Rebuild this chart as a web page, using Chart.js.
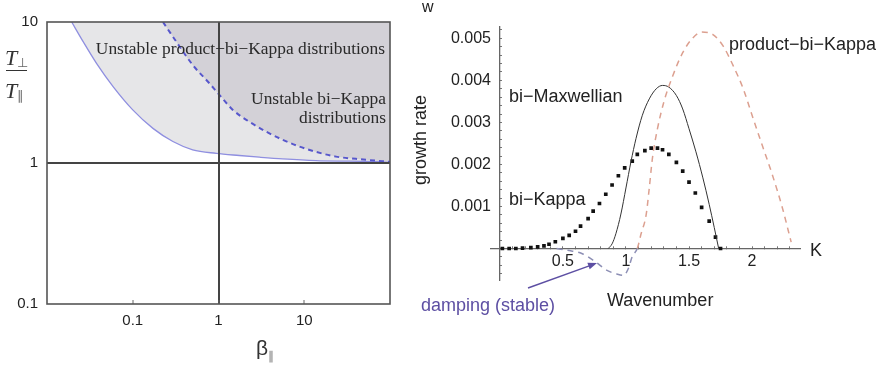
<!DOCTYPE html>
<html>
<head>
<meta charset="utf-8">
<script src="https://cdn.jsdelivr.net/npm/chart.js@4.4.1/dist/chart.umd.min.js"></script>
<style>
  body { margin: 0; background: #fff; }
  #page { position: relative; width: 890px; height: 366px; overflow: hidden; color: #222;
          font-family: 'Liberation Sans', Arial, sans-serif; }
  canvas { position: absolute; top: 0; }
  #left { left: 0; }
  #right { left: 400px; }
  .lbl { position: absolute; white-space: nowrap; line-height: 1; }
  .serif { font-family: 'Liberation Serif', 'Times New Roman', serif; font-size: 17.4px; color: #2a2a2a; }
  .sans { font-size: 18px; }
  .tee { font-family: 'Liberation Serif', serif; font-style: italic; font-size: 22px; color: #333; }
  .tee sub { font-style: normal; font-size: 13px; vertical-align: -2px; color: #666; }
</style>
</head>
<body>
<div id="page">
  <canvas id="left" width="400" height="366"></canvas>
  <canvas id="right" width="490" height="366"></canvas>

  <div class="lbl tee" style="left:5px; top:47px;">T<sub>⊥</sub></div>
  <div style="position:absolute; left:6px; top:70px; width:21px; height:1px; background:#333;"></div>
  <div class="lbl tee" style="left:5px; top:80px;">T<sub>∥</sub></div>
  <div class="lbl" style="left:256px; top:337px; font-size:21px; color:#333;">β<sub style="font-size:12px; color:#777;">∥</sub></div>

  <div class="lbl serif" style="right:505px; top:40px;">Unstable product−bi−Kappa distributions</div>
  <div class="lbl serif" style="right:504px; top:90px;">Unstable bi−Kappa</div>
  <div class="lbl serif" style="right:504px; top:109px;">distributions</div>

  <div class="lbl" style="left:422px; top:-1px; font-size:16px;">w</div>
  <div class="lbl sans" style="left:370px; top:131px; width:100px; text-align:center; transform:rotate(-90deg);">growth rate</div>
  <div class="lbl sans" style="left:810px; top:241px;">K</div>
  <div class="lbl sans" style="left:607px; top:291px;">Wavenumber</div>
  <div class="lbl sans" style="left:509px; top:87px;">bi−Maxwellian</div>
  <div class="lbl sans" style="left:509px; top:190px;">bi−Kappa</div>
  <div class="lbl sans" style="left:729px; top:35px;">product−bi−Kappa</div>
  <div class="lbl sans" style="left:421px; top:296px; color:#5d4fa3;">damping (stable)</div>
</div>

<script>
'use strict';

// left panel: threshold T_perp / T_par against beta_par (log-log)
let betaProduct = [0.0194, 0.0264, 0.0378, 0.059, 0.1, 0.172, 0.294, 0.5, 0.94, 1.75, 3.0, 5.6, 13.7, 33, 100];
let ratioProduct = [10, 7.25, 5.09, 3.48, 2.38, 1.76, 1.42, 1.24, 1.17, 1.13, 1.10, 1.07, 1.04, 1.03, 1.02];
let betaBiKappa = [0.225, 0.322, 0.5, 0.785, 1.03, 1.47, 2.29, 3.59, 5.6, 8.75, 13.7, 23.4, 40, 81, 100];
let ratioBiKappa = [10, 7.25, 4.96, 3.67, 3.03, 2.38, 1.96, 1.67, 1.46, 1.31, 1.20, 1.11, 1.07, 1.03, 1.02];
let betaTicks = [0.1, 1, 10];
let ratioTicks = [0.1, 1, 10];

// right panel: growth rate against wavenumber K
let kProduct = [0.45, 0.55, 0.65, 0.75, 0.85, 0.93, 0.98, 1.02, 1.05, 1.09, 1.12, 1.16, 1.185, 1.21, 1.25,
  1.30, 1.37, 1.45, 1.53, 1.60, 1.69, 1.77, 1.85, 1.93, 2.00, 2.08, 2.16, 2.24, 2.31];
let rateProduct = [0, -0.00005, -0.00012, -0.0003, -0.00052, -0.00061, -0.00064, -0.00047, -0.00019, 0,
  0.00035, 0.0008, 0.00144, 0.00215, 0.00285, 0.00348, 0.0041, 0.00466, 0.00501, 0.00515, 0.00509,
  0.00482, 0.00435, 0.0038, 0.00317, 0.00246, 0.00176, 0.00097, 0.00015];
let kMaxwell = [0.86, 0.89, 0.92, 0.96, 1.0, 1.04, 1.08, 1.13, 1.185, 1.24, 1.29, 1.34, 1.40, 1.45, 1.50,
  1.555, 1.61, 1.66, 1.70, 1.735];
let rateMaxwell = [0, 0.00011, 0.00035, 0.00082, 0.00144, 0.00207, 0.00262, 0.00317, 0.00356, 0.0038,
  0.00388, 0.00384, 0.00364, 0.00332, 0.00285, 0.0023, 0.00168, 0.00105, 0.0005, 0];
let kBiKappa = [0.02, 0.074, 0.127, 0.18, 0.246, 0.30, 0.35, 0.39, 0.44, 0.50, 0.55, 0.60, 0.64, 0.70, 0.74,
  0.79, 0.84, 0.89, 0.94, 0.99, 1.05, 1.09, 1.15, 1.20, 1.25, 1.29, 1.34, 1.40, 1.45, 1.50, 1.55, 1.60,
  1.66, 1.71, 1.75];
let rateBiKappa = [0, 0, 0, 0.00001, 0.00002, 0.00004, 0.00006, 0.0001, 0.00016, 0.00024, 0.00031, 0.00041,
  0.00053, 0.00071, 0.00089, 0.00107, 0.00129, 0.00151, 0.00173, 0.00192, 0.00208, 0.00224, 0.00233,
  0.00239, 0.00239, 0.00235, 0.00224, 0.00205, 0.00184, 0.00158, 0.00132, 0.00098, 0.00065, 0.00027, 0];
let kTickLabels = [0.5, 1, 1.5, 2];
let rateTickLabels = [0.001, 0.002, 0.003, 0.004, 0.005];

// minor tick marks (no labels)
let kMinorTicks = [];
for (let i = 1; i <= 23; i++) kMinorTicks.push(i / 10);
let rateMinorTicks = [];
for (let i = -3; i <= 26; i++) rateMinorTicks.push(i * 2 / 10000);

Chart.defaults.font.family = "'Liberation Sans', Arial, sans-serif";

function toPoints(xs, ys) {
  return xs.map((x, i) => ({ x: x, y: ys[i] }));
}

function isLabelled(list, v) {
  return list.some(t => Math.abs(t - v) < 1e-9);
}

const framePlugin = {
  id: 'frame',
  afterDraw(chart) {
    const a = chart.chartArea;
    const c = chart.ctx;
    c.save();
    c.strokeStyle = '#555';
    c.lineWidth = 1.6;
    c.strokeRect(a.left, a.top, a.right - a.left, a.bottom - a.top);
    c.restore();
  }
};

const arrowPlugin = {
  id: 'arrow',
  afterDraw(chart) {
    const c = chart.ctx;
    const x0 = 128, y0 = 288, x1 = 197, y1 = 263;
    const ang = Math.atan2(y1 - y0, x1 - x0);
    c.save();
    c.strokeStyle = '#5d4fa3';
    c.fillStyle = '#5d4fa3';
    c.lineWidth = 1.4;
    c.beginPath();
    c.moveTo(x0, y0);
    c.lineTo(x1 - 6 * Math.cos(ang), y1 - 6 * Math.sin(ang));
    c.stroke();
    c.beginPath();
    c.moveTo(x1, y1);
    c.lineTo(x1 - 9 * Math.cos(ang) + 3.5 * Math.sin(ang), y1 - 9 * Math.sin(ang) - 3.5 * Math.cos(ang));
    c.lineTo(x1 - 9 * Math.cos(ang) - 3.5 * Math.sin(ang), y1 - 9 * Math.sin(ang) + 3.5 * Math.cos(ang));
    c.closePath();
    c.fill();
    c.restore();
  }
};

let refLine = ctx => (ctx.tick && ctx.tick.value === 1 ? '#444' : 'transparent');

new Chart(document.getElementById('left'), {
  type: 'line',
  data: {
    datasets: [
      { data: toPoints(betaBiKappa, ratioBiKappa), borderColor: '#5757cc', borderWidth: 2, borderDash: [5, 4],
        backgroundColor: '#d3d1d7', fill: 'end', order: 1 },
      { data: toPoints(betaProduct, ratioProduct), borderColor: '#8f8fe0', borderWidth: 1.3,
        backgroundColor: '#e6e6e8', fill: 'end', order: 2 }
    ]
  },
  options: {
    responsive: false,
    animation: false,
    devicePixelRatio: 1,
    layout: { padding: { top: 22, right: 10, left: 0, bottom: 0 } },
    elements: { point: { radius: 0 }, line: { cubicInterpolationMode: 'monotone' } },
    plugins: { legend: { display: false }, tooltip: { enabled: false } },
    scales: {
      x: {
        type: 'logarithmic', min: 0.01, max: 100,
        afterBuildTicks: s => { s.ticks = betaTicks.map(v => ({ value: v })); },
        afterFit: s => { s.height = 62; },
        ticks: { callback: v => String(v), padding: 12, maxRotation: 0, autoSkip: false, color: '#222', font: { size: 15 } },
        grid: { z: 1, color: refLine, lineWidth: 2, tickLength: -4, tickColor: '#666', tickWidth: 1 },
        border: { display: false }
      },
      y: {
        type: 'logarithmic', min: 0.1, max: 10,
        afterBuildTicks: s => { s.ticks = ratioTicks.map(v => ({ value: v })); },
        afterFit: s => { s.width = 47; },
        ticks: { callback: v => String(v), padding: 9, autoSkip: false, color: '#222', font: { size: 15 } },
        grid: { z: 1, color: refLine, lineWidth: 2, drawTicks: false },
        border: { display: false }
      }
    }
  },
  plugins: [framePlugin]
});

new Chart(document.getElementById('right'), {
  type: 'line',
  data: {
    datasets: [
      { data: toPoints(kProduct, rateProduct), borderColor: '#dca090', borderWidth: 1.5, borderDash: [6, 5],
        segment: { borderColor: c => (c.p0.parsed.y < 0 || c.p1.parsed.y < 0 ? '#8d8fb5' : '#dca090') } },
      { data: toPoints(kMaxwell, rateMaxwell), borderColor: '#333', borderWidth: 1 },
      { data: toPoints(kBiKappa, rateBiKappa), showLine: false, pointStyle: 'rect', pointRadius: 2.6,
        backgroundColor: '#111', borderWidth: 0 }
    ]
  },
  options: {
    responsive: false,
    animation: false,
    devicePixelRatio: 1,
    layout: { padding: { top: 23, right: 90, left: 91, bottom: 86 } },
    elements: { point: { radius: 0 }, line: { cubicInterpolationMode: 'monotone' } },
    plugins: { legend: { display: false }, tooltip: { enabled: false } },
    scales: {
      x: {
        type: 'linear', min: -0.07, max: 2.38, position: { y: 0 },
        afterBuildTicks: s => { s.ticks = kMinorTicks.map(v => ({ value: v })); },
        ticks: { callback: v => (isLabelled(kTickLabels, v) ? String(v) : ''), padding: 7, maxRotation: 0,
          autoSkip: false, color: '#222', font: { size: 16 } },
        grid: { drawOnChartArea: false, tickLength: -3, color: '#777' },
        border: { color: '#666', width: 1.3 }
      },
      y: {
        type: 'linear', min: -0.00075, max: 0.00528, position: { x: 0 },
        afterBuildTicks: s => { s.ticks = rateMinorTicks.map(v => ({ value: v })); },
        // labels sit right on the axis line here, so two trailing spaces give the gap
        ticks: { callback: v => (isLabelled(rateTickLabels, v) ? v.toFixed(3) + '  ' : ''), padding: 17,
          autoSkip: false, color: '#222', font: { size: 16 } },
        grid: { drawOnChartArea: false, tickLength: -3, color: '#777' },
        border: { color: '#666', width: 1.3 }
      }
    }
  },
  plugins: [arrowPlugin]
});
</script>
</body>
</html>
